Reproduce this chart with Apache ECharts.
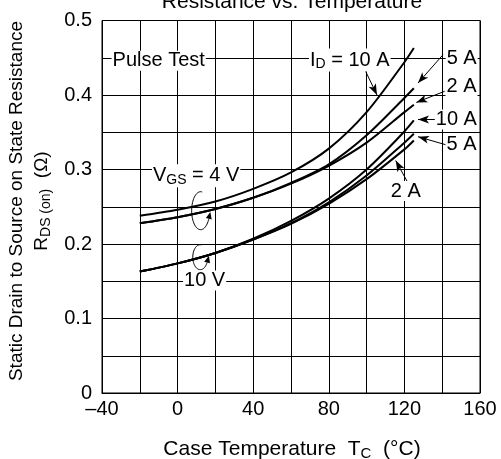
<!DOCTYPE html>
<html><head><meta charset="utf-8">
<script src="https://cdn.jsdelivr.net/npm/echarts@6/dist/echarts.min.js"></script>
<style>html,body{margin:0;padding:0;background:#fff}#c{width:501px;height:459px}</style>
</head><body><div id="c"></div>
<script>
// Case temperature (°C)
const temps = [-20, 0, 20, 40, 60, 80, 100, 120, 125];
// RDS(on) (Ω), VGS = 4 V
const r4v10a  = [0.238, 0.246, 0.257, 0.274, 0.296, 0.328, 0.377, 0.444, 0.463];
const r4v5a   = [0.228, 0.236, 0.247, 0.262, 0.282, 0.307, 0.346, 0.396, 0.409];
const r4v2a   = [0.228, 0.236, 0.247, 0.262, 0.281, 0.305, 0.336, 0.377, 0.387];
// RDS(on) (Ω), VGS = 10 V
const r10v10a = [0.163, 0.174, 0.188, 0.207, 0.231, 0.261, 0.300, 0.351, 0.366];
const r10v5a  = [0.163, 0.174, 0.188, 0.206, 0.228, 0.256, 0.292, 0.336, 0.348];
const r10v2a  = [0.163, 0.174, 0.188, 0.206, 0.227, 0.254, 0.287, 0.327, 0.339];

const xTickLabels = {'-40':'\u201340', '0':'0', '40':'40', '80':'80', '120':'120', '160':'160'};
const yTickLabels = {'0':'0', '0.1':'0.1', '0.2':'0.2', '0.3':'0.3', '0.4':'0.4', '0.5':'0.5'};

// annotation arrows [from, to] in data coordinates
const arrows = [
  [[98.5, 0.437], [105.5, 0.400]],
  [[140.4, 0.454], [127.2, 0.416]],
  [[141.3, 0.405], [126.3, 0.390]],
  [[136.9, 0.367], [127.2, 0.367]],
  [[142.2, 0.333], [127.2, 0.344]],
  [[121.9, 0.282], [115.4, 0.312]]
];
// annotation labels (centre in data coordinates)
const notes = [
  ['Pulse Test', -10.0, 0.446],
  ['I{s|D} = 10 A', 91.1, 0.447],
  ['5 A', 150.3, 0.449],
  ['2 A', 150.2, 0.412],
  ['10 A', 147.5, 0.367],
  ['5 A', 150.2, 0.333],
  ['2 A', 120.7, 0.271],
  ['V{s|GS} = 4 V', 9.8, 0.2917],
  ['10 V', 14.3, 0.151]
];
// group loops (centre in data coordinates)
const loops = [
  [12.2, 0.2447, 9, 19],
  [12.0, 0.1823, 7.5, 12.5]
];

const FONT = '"Liberation Sans", Arial, Helvetica, sans-serif';
const chart = echarts.init(document.getElementById('c'));

const curves = [r4v10a, r4v5a, r4v2a, r10v10a, r10v5a, r10v2a];
const series = curves.map((arr, k) => ({
  type: 'line',
  data: temps.map((t, i) => [t, arr[i]]),
  smooth: 0.3,
  symbol: 'none',
  silent: true,
  lineStyle: {color: '#000', width: 2},
  z: 3
}));
series[0].markLine = {
  silent: true,
  symbol: ['none', 'arrow'],
  symbolSize: [6, 11],
  label: {show: false},
  lineStyle: {color: '#000', width: 1, type: 'solid'},
  emphasis: {disabled: true},
  data: arrows.map(a => [{coord: a[0]}, {coord: a[1]}])
};

chart.setOption({
  animation: false,
  backgroundColor: '#fff',
  grid: {left: 102, right: 21, top: 20.5, bottom: 66, containLabel: false, outerBoundsMode: 'none',
         show: true, borderColor: '#000', borderWidth: 1},
  xAxis: {
    type: 'value', min: -40, max: 160, interval: 20,
    axisLine: {show: true, lineStyle: {color: '#000', width: 1}},
    axisTick: {show: false},
    splitLine: {show: true, lineStyle: {color: '#000', width: 1}},
    axisLabel: {
      color: '#000', fontSize: 20, fontFamily: FONT, margin: 6,
      formatter: v => xTickLabels[String(v)] || ''
    }
  },
  yAxis: {
    type: 'value', min: 0, max: 0.5, interval: 0.05,
    axisLine: {show: true, lineStyle: {color: '#000', width: 1}},
    axisTick: {show: false},
    splitLine: {show: true, lineStyle: {color: '#000', width: 1}},
    axisLabel: {
      color: '#000', fontSize: 20, fontFamily: FONT, margin: 10,
      formatter: v => yTickLabels[String(Math.round(v * 100) / 100)] || ''
    }
  },
  series: series
});

const P = (x, y) => chart.convertToPixel({gridIndex: 0}, [x, y]);
const graphics = [];
notes.forEach(n => {
  const p = P(n[1], n[2]);
  graphics.push({
    type: 'text', x: p[0], y: p[1], z: 50, silent: true,
    style: {
      text: n[0], fill: '#000', fontSize: 20, fontFamily: FONT,
      align: 'center', verticalAlign: 'middle',
      backgroundColor: '#fff', padding: [0, 1],
      rich: {s: {fontSize: 14, fontFamily: FONT, fill: '#000', padding: [9, 0, 0, 0]}}
    }
  });
});
loops.forEach(l => {
  const c = P(l[0], l[1]);
  const rx = l[2], ry = l[3];
  const pts = [];
  for (let d = -80; d >= -335; d -= 5) {
    const t = d * Math.PI / 180;
    pts.push([c[0] + rx * Math.cos(t), c[1] + ry * Math.sin(t)]);
  }
  graphics.push({type: 'polyline', z: 40, silent: true, shape: {points: pts, smooth: 0.3},
                 style: {stroke: '#000', lineWidth: 1, fill: null}});
  const tEnd = -335 * Math.PI / 180;
  const ex = c[0] + rx * Math.cos(tEnd), ey = c[1] + ry * Math.sin(tEnd);
  let dx = rx * Math.sin(tEnd), dy = -ry * Math.cos(tEnd);
  const len = Math.hypot(dx, dy); dx /= len; dy /= len;
  const tipx = ex + dx * 7, tipy = ey + dy * 7;
  const nx = -dy, ny = dx;
  graphics.push({type: 'polygon', z: 41, silent: true,
    shape: {points: [[tipx, tipy], [ex + nx * 3, ey + ny * 3], [ex - nx * 3, ey - ny * 3]]},
    style: {fill: '#000'}});
});
// title (partly outside the top edge)
graphics.push({type: 'text', x: 292, y: 2.5, silent: true,
  style: {text: 'Resistance vs. Temperature', fill: '#000', fontSize: 21, fontFamily: FONT,
          align: 'center', verticalAlign: 'middle'}});
// x axis name
graphics.push({type: 'text', x: 292, y: 449, silent: true,
  style: {text: 'Case Temperature  T{s|C}  (\u00b0C)', fill: '#000', fontSize: 21, fontFamily: FONT,
          align: 'center', verticalAlign: 'middle', rich: {s: {fontSize: 15, fontFamily: FONT, fill: '#000', padding: [9, 0, 0, 0]}}}});
// y axis name (two lines)
graphics.push({type: 'text', x: 29, y: 201, rotation: Math.PI / 2, silent: true,
  style: {text: 'Static Drain to Source on State Resistance\nR{s|DS (on)}  (\u03a9)', fill: '#000',
          fontSize: 19, fontFamily: FONT, lineHeight: 25,
          align: 'center', verticalAlign: 'middle', rich: {s: {fontSize: 14, fontFamily: FONT, fill: '#000', padding: [9, 0, 0, 0]}}}});
chart.setOption({graphic: {elements: graphics}});
</script></body></html>
